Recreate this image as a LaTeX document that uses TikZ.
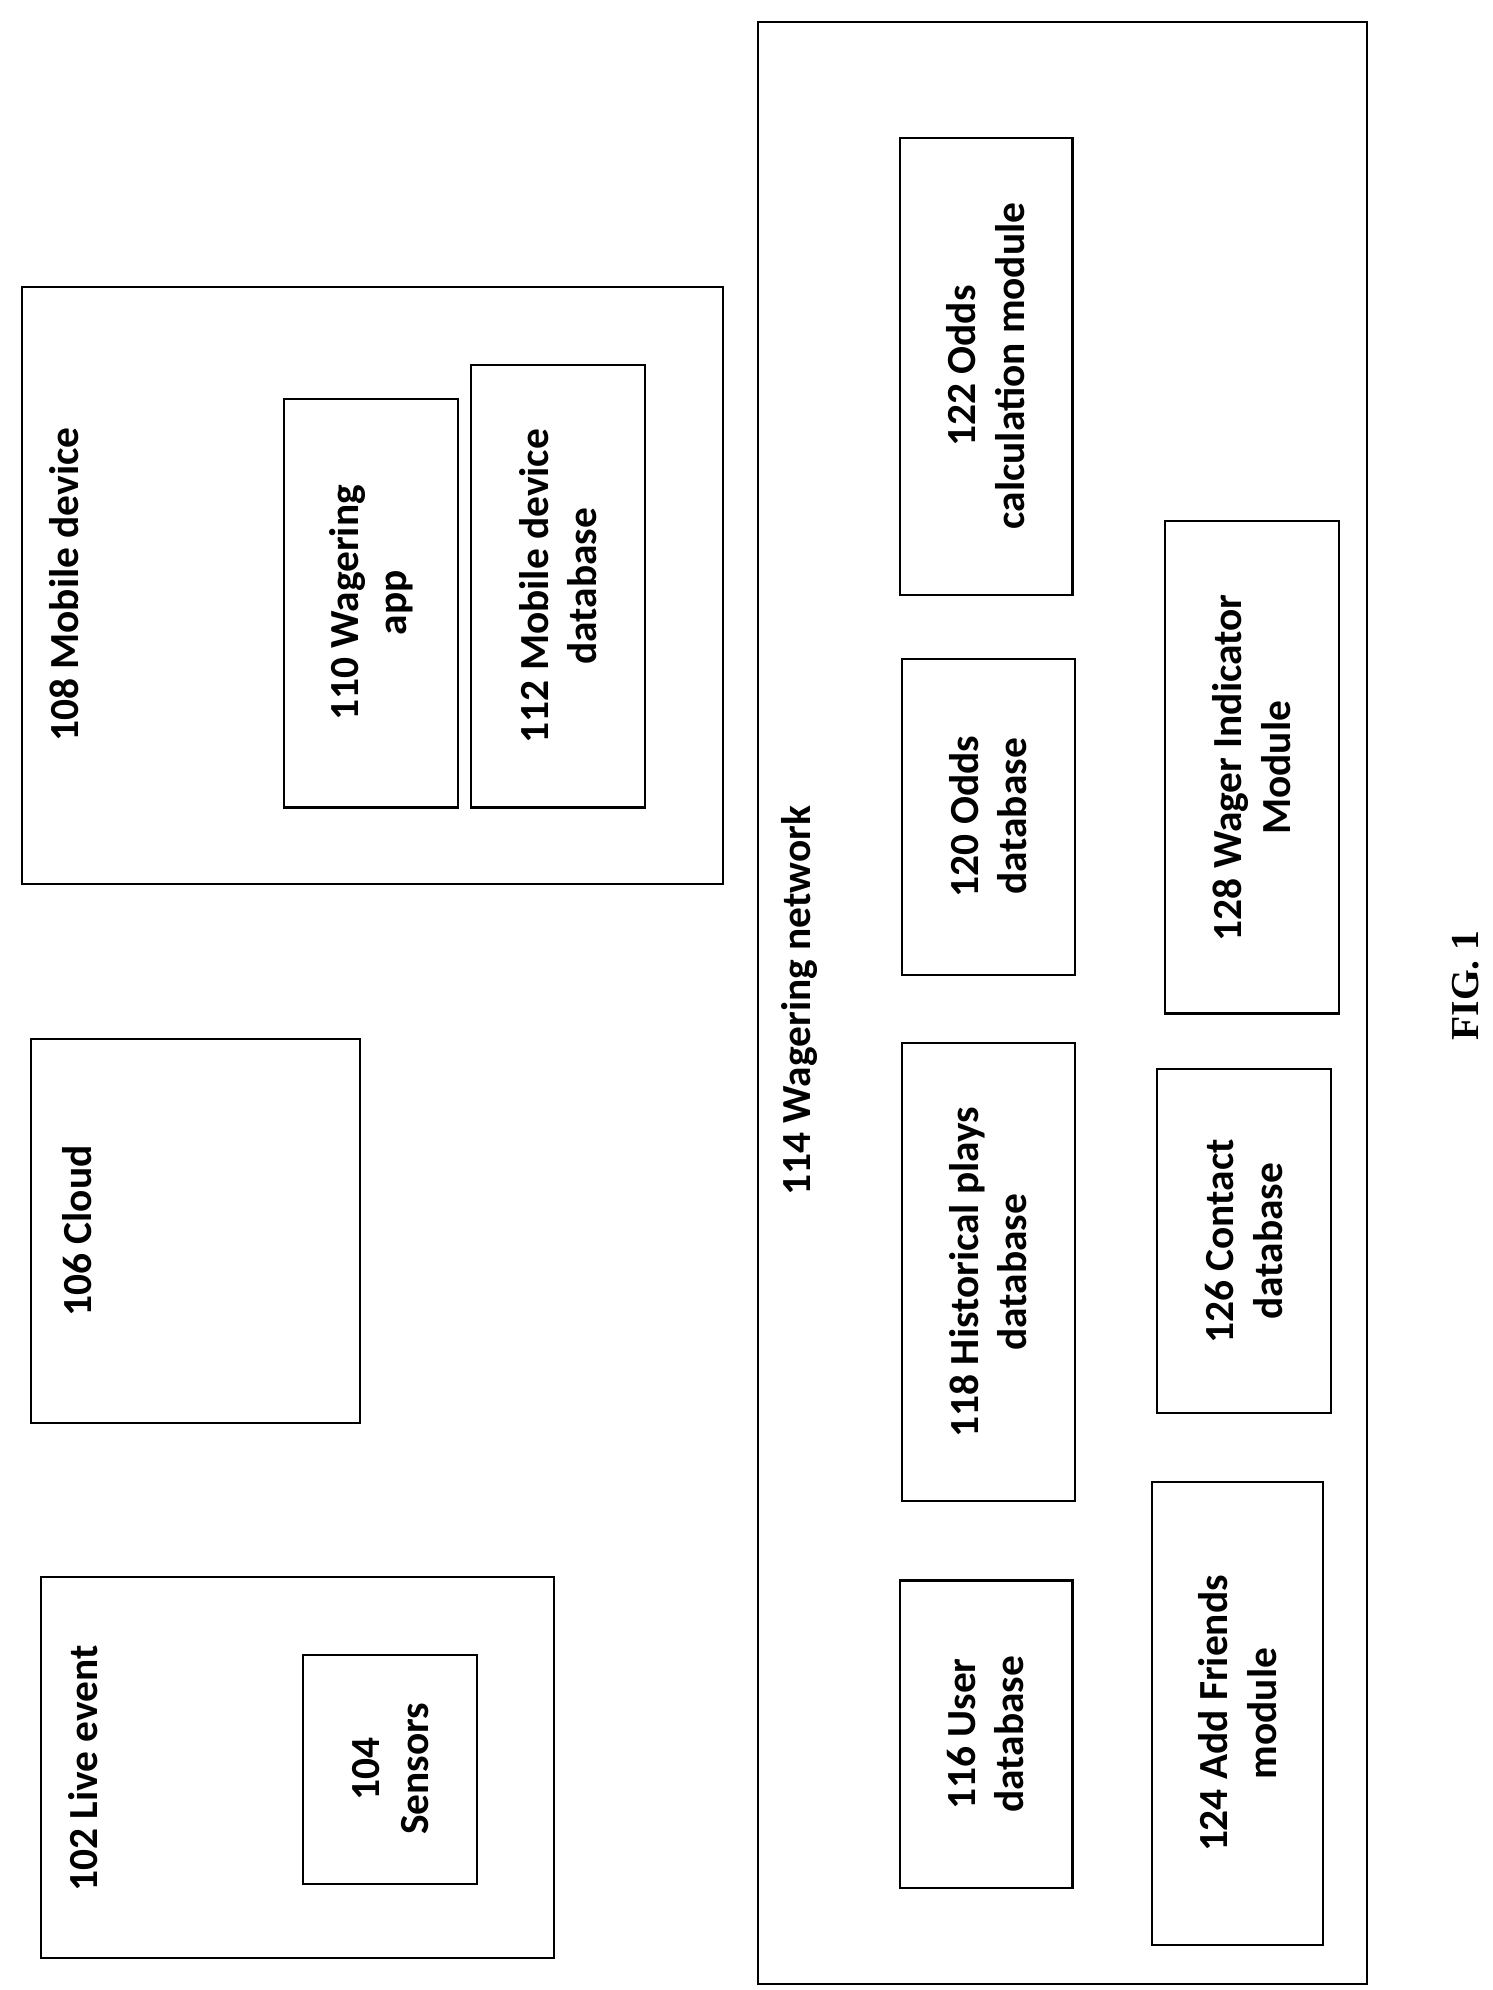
\documentclass[tikz,border=0pt]{standalone}
\usepackage{fontspec}
\setmainfont{Carlito}
\newfontfamily\figfont{Liberation Serif}
\begin{document}
\begin{tikzpicture}[x=0.025cm,y=-0.025cm,
  bx/.style={draw,line width=1.2pt},
  lb/.style={rotate=90,align=center,font=\fontsize{23}{27}\selectfont\bfseries,inner sep=0}]
\useasboundingbox (0,0) rectangle (1166,1555);
\newcommand\bxx[5]{\draw[bx] (#1,#2) rectangle (#3,#4); \node[lb] (#5) at ({(#1+#3)/2},{(#2+#4)/2}) {};}
% outer boxes
\draw[bx] (32,1232) rectangle (433,1530);
\node[lb] (t102) at (65,1382) {102 Live event};
\draw[bx] (24,812) rectangle (281,1112);
\node[lb] (t106) at (60,962) {106 Cloud};
\draw[bx] (17,224) rectangle (565,691);
\node[lb] (t108) at (50,457) {108 Mobile device};
\draw[bx] (592,17) rectangle (1068,1550);
\node[lb] (t114) at (625,782) {114 Wagering network};
% inner
\draw[bx] (237,1293) rectangle (373,1472);
\node[lb] (n104) at (305,1382) {104\\Sensors};
\draw[bx] (222,312) rectangle (358,631);
\node[lb] (n110) at (290,471) {110 Wagering\\app};
\draw[bx] (368,285) rectangle (504,631);
\node[lb] (n112) at (436,458) {112 Mobile device\\database};
\draw[bx] (703,108) rectangle (838,465);
\node[lb] (n122) at (770,286) {122 Odds\\calculation module};
\draw[bx] (705,515) rectangle (840,762);
\node[lb] (n120) at (772,638) {120 Odds\\database};
\draw[bx] (705,815) rectangle (840,1173);
\node[lb] (n118) at (772,994) {118 Historical plays\\database};
\draw[bx] (703,1235) rectangle (838,1475);
\node[lb] (n116) at (770,1355) {116 User\\database};
\draw[bx] (910,407) rectangle (1046,792);
\node[lb] (n128) at (978,600) {128 Wager Indicator\\Module};
\draw[bx] (904,835) rectangle (1040,1104);
\node[lb] (n126) at (972,970) {126 Contact\\database};
\draw[bx] (900,1158) rectangle (1034,1520);
\node[lb] (n124) at (967,1339) {124 Add Friends\\module};
\node[rotate=90,font=\figfont\fontsize{22}{26}\selectfont\bfseries] (fig) at (1145,770) {FIG. 1};
\end{tikzpicture}
\end{document}
